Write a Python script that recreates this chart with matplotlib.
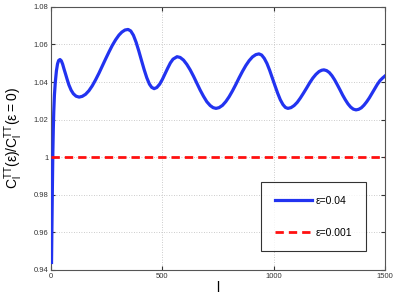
import matplotlib
matplotlib.use("Agg")
import matplotlib.pyplot as plt

# values (multipole l, ratio C_l(eps)/C_l(eps=0))
ell = [2, 4, 6, 8, 10, 12, 15, 19, 24, 29, 34, 40, 46, 52, 58, 65, 72, 80,
       90, 100, 112, 126,
       140, 155, 170, 185, 200, 215, 230, 245, 260, 275, 290, 305, 318, 332,
       346, 358, 370, 382, 394, 406, 418, 430, 442, 452, 463,
       475, 488, 500, 512, 524, 536, 548, 566,
       580, 595, 610, 625, 640, 655, 670, 685, 700, 715, 728, 741,
       755, 770, 785, 800, 815, 830, 845, 860, 875, 890, 905, 920, 934,
       946, 958, 970, 982, 994, 1006, 1018, 1030, 1042, 1053, 1064,
       1078, 1092, 1106, 1120, 1134, 1148, 1162, 1176, 1190, 1204, 1216, 1226,
       1238, 1250, 1262, 1274, 1286, 1298, 1310, 1322, 1334, 1346, 1358, 1370,
       1382, 1394, 1406, 1418, 1430, 1442, 1454, 1466, 1478, 1490, 1500]
ratio_004 = [0.944, 0.965, 0.985, 1.003, 1.015, 1.024, 1.033, 1.040, 1.046,
             1.0497, 1.0515, 1.052, 1.0513, 1.0495, 1.047, 1.0443, 1.0415,
             1.0385, 1.0357, 1.0338, 1.0325, 1.032,
             1.0324, 1.0335, 1.0354, 1.038, 1.0412, 1.0447, 1.0485, 1.0523,
             1.056, 1.0595, 1.0625, 1.065, 1.0666, 1.0677,
             1.068, 1.0672, 1.0649, 1.0612, 1.0566, 1.0516, 1.0467, 1.0423,
             1.0389, 1.0372, 1.0365,
             1.0371, 1.0389, 1.0414, 1.0444, 1.0474, 1.0502, 1.0522, 1.0535,
             1.0531, 1.0517, 1.0494, 1.0465, 1.0431, 1.0394, 1.0357, 1.0324,
             1.0295, 1.0275, 1.0264, 1.026,
             1.0264, 1.0276, 1.0296, 1.0322, 1.0353, 1.0387, 1.0423, 1.0457,
             1.0488, 1.0514, 1.0534, 1.0546, 1.055,
             1.0544, 1.0526, 1.0499, 1.0463, 1.0422, 1.0381, 1.0341, 1.0306,
             1.028, 1.0265, 1.026,
             1.0264, 1.0275, 1.0292, 1.0315, 1.0341, 1.0368, 1.0396, 1.0421,
             1.0441, 1.0456, 1.0463, 1.0465,
             1.0461, 1.0451, 1.0434, 1.0412, 1.0386, 1.0359, 1.0331, 1.0306,
             1.0284, 1.0267, 1.0256, 1.0252,
             1.0255, 1.0263, 1.0277, 1.0295, 1.0316, 1.034, 1.0364, 1.0388,
             1.0408, 1.0422, 1.0432]
ell_flat = [0, 1500]
ratio_0001 = [1.0, 1.0]

xticks = [0, 500, 1000, 1500]
yticks = [0.94, 0.96, 0.98, 1.0, 1.02, 1.04, 1.06, 1.08]
ytick_labels = ["0.94", "0.96", "0.98", "1", "1.02", "1.04", "1.06", "1.08"]

plt.rcParams["font.family"] = ["Liberation Sans", "DejaVu Sans"]
plt.rcParams["mathtext.default"] = "regular"

fig = plt.figure(figsize=(3.96, 3.0), dpi=100)
ax = fig.add_axes([0.129, 0.1, 0.843, 0.877])

ax.plot(ell, ratio_004, color="#2233f0", lw=2.3, label="ε=0.04", zorder=3,
        solid_joinstyle="round")
ax.plot(ell_flat, ratio_0001, color="#ff1010", lw=2.0, ls=(0, (3, 1.8)),
        label="ε=0.001", zorder=3)

ax.set_xlim(0, 1500)
ax.set_ylim(0.94, 1.08)
ax.set_xticks(xticks)
ax.set_yticks(yticks)
ax.set_yticklabels(ytick_labels)
ax.tick_params(direction="in", length=3, labelsize=5.5, top=True, right=True,
               colors="#333333", pad=2)
ax.grid(True, ls=(0, (1, 2)), color="#bbbbbb", lw=0.6)
for s in ax.spines.values():
    s.set_color("#555555")
    s.set_linewidth(0.8)

ax.set_xlabel("l", fontsize=10, labelpad=1)
ax.set_ylabel(r"$C_l^{TT}(\epsilon)/C_l^{TT}(\epsilon=0)$", fontsize=10, labelpad=6)

leg = ax.legend(loc="lower right", bbox_to_anchor=(0.943, 0.072), fontsize=7.5,
                frameon=True, fancybox=False, edgecolor="black",
                handlelength=3.6, labelspacing=2.1, borderpad=1.3,
                handletextpad=0.35, borderaxespad=0)
leg.get_frame().set_linewidth(0.8)

fig.savefig("out.png", dpi=100)
